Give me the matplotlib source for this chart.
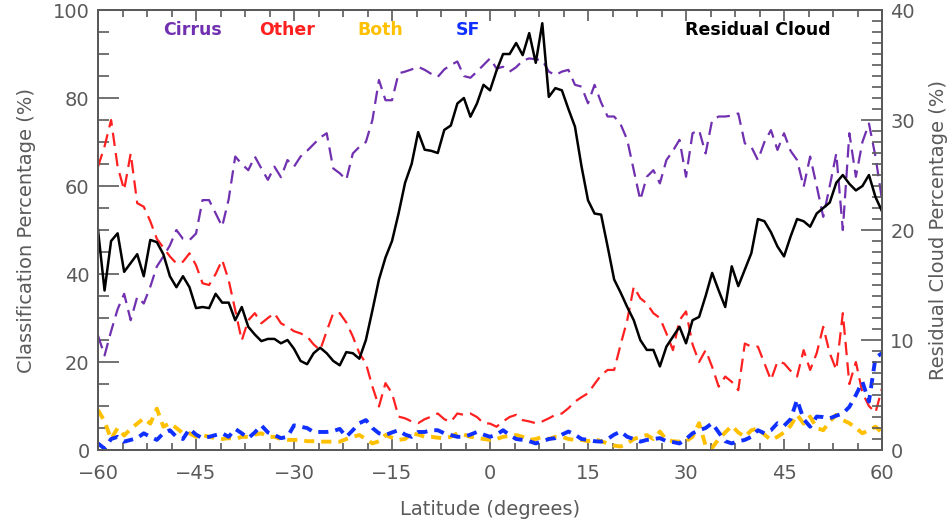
import numpy as np
import matplotlib.pyplot as plt
from matplotlib.ticker import MultipleLocator

# latitude grid (1 degree)
lat = np.arange(-60, 61)

# classification percentages (left axis)
cirrus = [26, 21.5, 27, 32, 35.5, 29.5, 34.8, 33.3, 37.1, 41.7,
          44, 46.5, 50, 48, 47.7, 49.2, 56.8, 56.8, 53.8, 50.8,
          57, 66.7, 65, 63.6, 66.7, 64, 61.4, 64.4, 62, 65.9,
          64.4, 66.7, 68, 69.5, 71, 72, 64, 62.9, 61.4, 67.4,
          68.9, 70, 75, 84.1, 79.5, 79.5, 85.6, 86, 86.5, 87.1,
          86.4, 85.5, 84.8, 86.5, 87.5, 88.3, 85, 84.6, 86, 87.5,
          89, 86.7, 87.1, 86, 87, 88.5, 89, 88.8, 88.6, 86,
          85.2, 86, 86.4, 83, 82.6, 78.8, 83, 79, 75.8, 75.8,
          74, 70.5, 63.6, 56.8, 62.1, 63.6, 60.6, 65.9, 68, 70.5,
          62.1, 72, 72.7, 67.4, 75, 75.8, 75.8, 76, 76.5, 69.7,
          68.9, 65.9, 70, 72.7, 68.2, 72, 68, 65.9, 59.8, 66.7,
          60, 53, 60, 67.4, 50, 72, 62.1, 70, 74.2, 66.7,
          56.8]
other = [64.4, 69, 75, 64.4, 59.1, 67.4, 56.1, 55.3, 52, 48,
         46, 44, 42.4, 42.8, 44.7, 42, 37.9, 37.5, 40, 43.2,
         38.6, 31.8, 24.9, 29.5, 31.1, 28.8, 30, 31.1, 28.8, 28,
         27, 26.5, 25.8, 24, 22.7, 27, 31.1, 31.1, 29, 25.8,
         22, 19.7, 14.4, 9.9, 15.2, 12.9, 7.6, 7.2, 6.5, 6.1,
         7, 7.6, 8.3, 7, 6.4, 8.3, 8, 8.3, 7.5, 6.1,
         6, 5.3, 6.5, 7.5, 8, 6.8, 6.5, 6.1, 6.5, 7.2,
         8, 8.3, 9.5, 11, 12, 12.9, 15, 17, 18.2, 18.2,
         24, 29.5, 37.1, 34.5, 33.3, 31.1, 30, 26.5, 22.7, 29.5,
         31.5, 24, 20, 22.7, 18.9, 14.4, 16.7, 15.5, 13.6, 24.2,
         23.5, 23.5, 19.7, 15.9, 20.1, 19.7, 18, 16.7, 22.7, 18.2,
         22, 28, 22, 18.2, 31.1, 15, 20, 13, 10, 8.5,
         14]
both = [9.1, 6.5, 2.5, 5, 3.3, 4.8, 6, 7.2, 6, 9.4,
        5.3, 6.1, 5, 3.8, 3.8, 3, 3.4, 3, 2.7, 2.5,
        2.7, 2.5, 3, 3, 3.5, 3.8, 3, 3, 2.5, 2.3,
        2.3, 2.3, 2, 2, 1.9, 1.9, 1.9, 1.9, 2.5, 3,
        3.4, 2.5, 1.5, 2, 3.4, 2.8, 2.3, 2.5, 3.8, 3.5,
        3, 3, 2.8, 2.7, 3, 3.8, 3.5, 3, 2.8, 2.5,
        2.3, 2.5, 3, 3.2, 3.4, 3, 2.3, 2.5, 3, 2.5,
        3, 3, 2.5, 2.3, 2.3, 2, 2.5, 2, 1.5, 1,
        0.8, 1.5, 2.5, 3, 3.4, 2.5, 4.2, 2.3, 2, 1.9,
        2, 3, 6.1, 1, 0.5, 2.5, 4, 5.5, 4, 3,
        4.5, 4.9, 3.5, 2.3, 3, 4, 5.5, 8, 6, 7.6,
        5, 4.5, 6.5, 8, 6.8, 6.1, 5, 3.8, 4.5, 5.3,
        4]
sf = [1.5, 0.3, 2.5, 3, 1.9, 2.3, 2.7, 3.8, 3, 2.3,
      3.8, 4.5, 3, 2.5, 4.8, 3.5, 2.7, 3, 3.4, 3.8,
      3, 4.8, 3.8, 2.7, 4, 5.6, 4, 3.4, 2.7, 3,
      5.6, 5.3, 5, 4.1, 4.1, 4.1, 4.3, 4.8, 3, 4.5,
      6.1, 6.8, 5, 3.8, 3.4, 4, 4.5, 3.5, 3, 4.1,
      4.1, 4.5, 4.5, 3.8, 3.4, 3, 3, 3.5, 4.1, 3.5,
      3, 3.5, 4.5, 3.4, 2.5, 2.3, 2, 1.5, 2, 2.5,
      2.7, 3.5, 4.2, 3.5, 2.5, 2.3, 2, 1.9, 2.5, 3.5,
      4.2, 3, 2.5, 1.9, 2.3, 2.5, 2.7, 2, 1.8, 1.5,
      2.5, 3.8, 4.5, 5, 6.1, 4, 2, 1.5, 2, 2.3,
      3, 4.5, 3.8, 4.5, 6.1, 5.5, 7, 11.4, 7, 5.3,
      7.6, 7.5, 7.2, 7.8, 8.3, 9.8, 12.5, 15.5, 11, 21,
      22]

# residual cloud percentage (right axis)
residual = [20, 14.5, 19, 19.7, 16.2, 17, 17.8, 15.8, 19.1, 18.9,
            17.8, 15.8, 14.8, 15.8, 14.8, 12.9, 13, 12.9, 14.2, 13.4,
            13.4, 11.8, 13, 11.2, 10.5, 9.9, 10.1, 10.1, 9.7, 10,
            9.2, 8.1, 7.8, 8.8, 9.3, 8.8, 8.1, 7.7, 8.9, 8.8,
            8.3, 10, 12.7, 15.5, 17.5, 19, 21.5, 24.3, 26, 28.9,
            27.3, 27.2, 27, 29.1, 29.5, 31.5, 32, 30.3, 31.5, 33.2,
            32.7, 34.5, 36, 36, 37, 35.9, 37.9, 35.2, 38.8, 32.1,
            32.9, 32.7, 31, 29.4, 25.8, 22.7, 21.5, 21.4, 18.5, 15.5,
            14.3, 13, 11.8, 10, 9.1, 9.1, 7.6, 9.4, 10.3, 11.2,
            9.7, 11.8, 12.1, 14, 16.1, 14.5, 13, 16.7, 14.9, 16.4,
            17.9, 21, 20.8, 19.8, 18.5, 17.6, 19.4, 21, 20.8, 20.3,
            21.5, 22, 22.5, 24.3, 25, 24.2, 23.6, 24, 25, 23,
            21.7]

grey = '#5a5a5a'
plt.rcParams['font.family'] = 'DejaVu Sans'

fig = plt.figure(figsize=(9.48, 5.22), dpi=100)
ax = fig.add_axes([0.1034, 0.1379, 0.8270, 0.8429])

ax.plot(lat, cirrus, color='#7030b0', lw=1.6, ls=(0, (6, 3.2)))
ax.plot(lat, other, color='#ff2020', lw=1.6, ls=(0, (6, 3.2)))
ax.plot(lat, both, color='#ffc000', lw=2.8, ls=(0, (2.6, 1.8)))
ax.plot(lat, sf, color='#1030ff', lw=2.8, ls=(0, (2.6, 1.8)))

ax.set_xlim(-60, 60)
ax.set_ylim(0, 100)
ax.xaxis.set_major_locator(MultipleLocator(15))
ax.xaxis.set_minor_locator(MultipleLocator(3.75))
ax.yaxis.set_major_locator(MultipleLocator(20))
ax.yaxis.set_minor_locator(MultipleLocator(5))
ax.tick_params(which='both', direction='in', top=True, right=False,
               colors=grey, labelsize=14, width=1.2)
ax.tick_params(axis='x', which='major', length=8, pad=10)
ax.tick_params(axis='x', which='minor', length=5)
ax.tick_params(axis='y', which='major', length=15, pad=6)
ax.tick_params(axis='y', which='minor', length=8)
for s in ax.spines.values():
    s.set_color(grey)
    s.set_linewidth(1.4)

ax.set_xticks(np.arange(-60, 61, 15))
ax.set_xticklabels(['\u221260', '\u221245', '\u221230', '\u221215', '0', '15', '30', '45', '60'])
ax.set_xlabel('Latitude (degrees)', fontsize=14, color=grey, labelpad=12)
ax.set_ylabel('Classification Percentage (%)', fontsize=14, color=grey, labelpad=12)

ax2 = ax.twinx()
ax2.plot(lat, residual, color='black', lw=1.8)
ax2.set_ylim(0, 40)
ax2.yaxis.set_major_locator(MultipleLocator(10))
ax2.yaxis.set_minor_locator(MultipleLocator(1))
ax2.tick_params(which='both', direction='in', colors=grey, labelsize=14, width=1.2)
ax2.tick_params(which='major', length=15, pad=6)
ax2.tick_params(which='minor', length=7)
for s in ax2.spines.values():
    s.set_color(grey)
    s.set_linewidth(1.4)
ax2.set_ylabel('Residual Cloud Percentage (%)', fontsize=14, color=grey, labelpad=10)

# labels along the top
labels = ['Cirrus', 'Other', 'Both', 'SF', 'Residual Cloud']
label_x = [-45.6, -31.1, -16.8, -3.4, 41.0]
label_c = ['#7030b0', '#ff2020', '#ffc000', '#1030ff', 'black']
for t, x, c in zip(labels, label_x, label_c):
    ax.text(x, 95.5, t, color=c, fontsize=12.5, fontweight='bold',
            ha='center', va='center')

fig.savefig('out.png', dpi=100)
